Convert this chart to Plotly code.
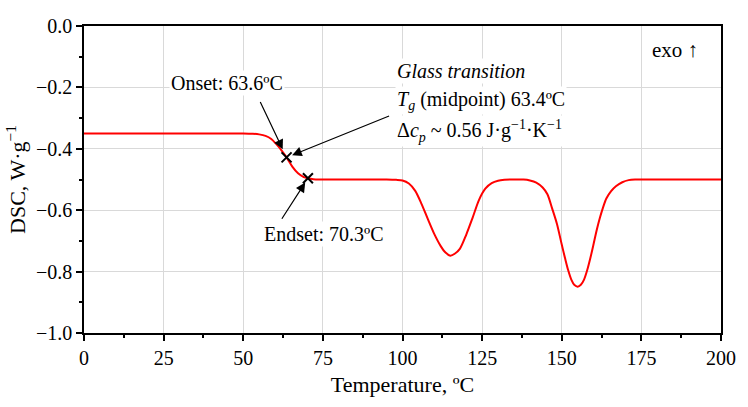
import plotly.graph_objects as go

# DSC curve
temp = [0, 5, 10, 15, 20, 25, 30, 35, 40, 45, 50, 53, 55, 57, 58.8, 60.4, 62, 63.6, 65.4,
        67.2, 69, 70.3, 72, 74, 77, 80, 85, 90, 95, 98,
        100, 102, 104, 106, 108, 110, 112, 113.5, 115, 116.5, 118, 120, 122, 124, 126,
        128, 130, 132, 134, 136, 138, 140, 142, 144, 145.5, 147, 148.5, 150, 151, 152, 153, 154,
        155, 156, 157, 158, 159, 160, 161, 162, 163, 164, 165.5, 167, 169, 171, 173,
        176, 180, 185, 190, 195, 200]
dsc = [-0.35, -0.35, -0.35, -0.35, -0.35, -0.35, -0.35, -0.35, -0.35, -0.35, -0.35, -0.351,
       -0.353, -0.358, -0.368, -0.385, -0.405, -0.428, -0.458, -0.480, -0.492, -0.496,
       -0.499, -0.50, -0.50, -0.50, -0.50, -0.50, -0.50, -0.501,
       -0.503, -0.513, -0.537, -0.580, -0.630, -0.678, -0.717, -0.738, -0.748, -0.741,
       -0.726, -0.680, -0.625, -0.567, -0.530, -0.512, -0.504, -0.501, -0.50, -0.50,
       -0.50, -0.503,
       -0.510, -0.526, -0.548, -0.595, -0.645, -0.712, -0.755, -0.795, -0.826, -0.844,
       -0.849, -0.843, -0.826, -0.795, -0.755, -0.710, -0.664, -0.624, -0.590, -0.562,
       -0.538, -0.522, -0.509, -0.502, -0.50, -0.50, -0.50, -0.50, -0.50, -0.50, -0.50]

# Onset / endset markers
mark_t = [63.6, 70.3]
mark_y = [-0.428, -0.496]

x_ticks = [0, 25, 50, 75, 100, 125, 150, 175, 200]
y_ticks = [0.0, -0.2, -0.4, -0.6, -0.8, -1.0]

FONT = "Liberation Serif"

fig = go.Figure()
fig.add_trace(go.Scatter(x=temp, y=dsc, mode="lines",
                         line=dict(color="#ff0000", width=2, shape="spline", smoothing=0.8),
                         showlegend=False, hoverinfo="skip"))
fig.add_trace(go.Scatter(x=mark_t, y=mark_y, mode="markers",
                         marker=dict(symbol="x-thin", size=10, line=dict(color="black", width=2)),
                         showlegend=False, hoverinfo="skip"))

ann_font = dict(family=FONT, size=20, color="black")
annotations = [
    # arrows
    dict(x=mark_t[0], y=mark_y[0], xref="x", yref="y", ax=-27, ay=-57, text="",
         showarrow=True, arrowhead=2, arrowsize=1.6, arrowwidth=1.2, arrowcolor="black", standoff=9),
    dict(x=mark_t[0], y=mark_y[0], xref="x", yref="y", ax=104, ay=-42, text="",
         showarrow=True, arrowhead=2, arrowsize=1.6, arrowwidth=1.2, arrowcolor="black", standoff=6),
    dict(x=mark_t[1], y=mark_y[1], xref="x", yref="y", ax=-27, ay=42, text="",
         showarrow=True, arrowhead=2, arrowsize=1.6, arrowwidth=1.2, arrowcolor="black", standoff=5),
    # labels
    dict(x=45, y=-0.187, xref="x", yref="y", text="Onset: 63.6ºC", showarrow=False,
         font=ann_font, bgcolor="white"),
    dict(x=75.3, y=-0.678, xref="x", yref="y", text="Endset: 70.3ºC", showarrow=False,
         font=ann_font, bgcolor="white"),
    dict(x=97.5, y=-0.147, xref="x", yref="y", xanchor="left", text="<i>Glass transition</i>",
         showarrow=False, font=ann_font, bgcolor="white"),
    dict(x=97.5, y=-0.244, xref="x", yref="y", xanchor="left",
         text="<i>T</i><sub><i>g</i></sub> (midpoint) 63.4ºC",
         showarrow=False, font=ann_font, bgcolor="white"),
    dict(x=97.5, y=-0.342, xref="x", yref="y", xanchor="left",
         text="Δ<i>c</i><sub><i>p</i></sub> ~ 0.56 J·g<sup>−1</sup>·K<sup>−1</sup>",
         showarrow=False, font=ann_font, bgcolor="white"),
    dict(x=185.6, y=-0.078, xref="x", yref="y", text="exo ↑", showarrow=False,
         font=dict(family=FONT, size=21, color="black"), bgcolor="white", borderpad=6),
]

axis_common = dict(showline=True, linecolor="black", linewidth=1.5, mirror=True,
                   ticks="outside", ticklen=6, tickwidth=1.5, tickcolor="black",
                   showgrid=True, gridcolor="#d9d9d9", gridwidth=1, zeroline=False,
                   tickfont=dict(family=FONT, size=20, color="black"))

fig.update_layout(
    width=748, height=407,
    margin=dict(l=84, r=24, t=26, b=74),
    paper_bgcolor="white", plot_bgcolor="white",
    font=dict(family=FONT, color="black"),
    annotations=annotations,
    xaxis=dict(range=[0, 200], tickvals=x_ticks, ticktext=[str(v) for v in x_ticks],
               minor=dict(ticks="outside", ticklen=3, tickwidth=1.5, tickcolor="black",
                          dtick=12.5, tick0=0, showgrid=False),
               title=dict(text="Temperature, ºC", font=dict(family=FONT, size=22), standoff=9),
               **axis_common),
    yaxis=dict(range=[-1.0, 0.0], tickvals=y_ticks, tickformat=".1f",
               minor=dict(ticks="outside", ticklen=3, tickwidth=1.5, tickcolor="black",
                          dtick=0.1, tick0=0, showgrid=False),
               title=dict(text="DSC, W·g<sup>−1</sup>", font=dict(family=FONT, size=22), standoff=4),
               **axis_common),
)

fig.write_html("out.html")
